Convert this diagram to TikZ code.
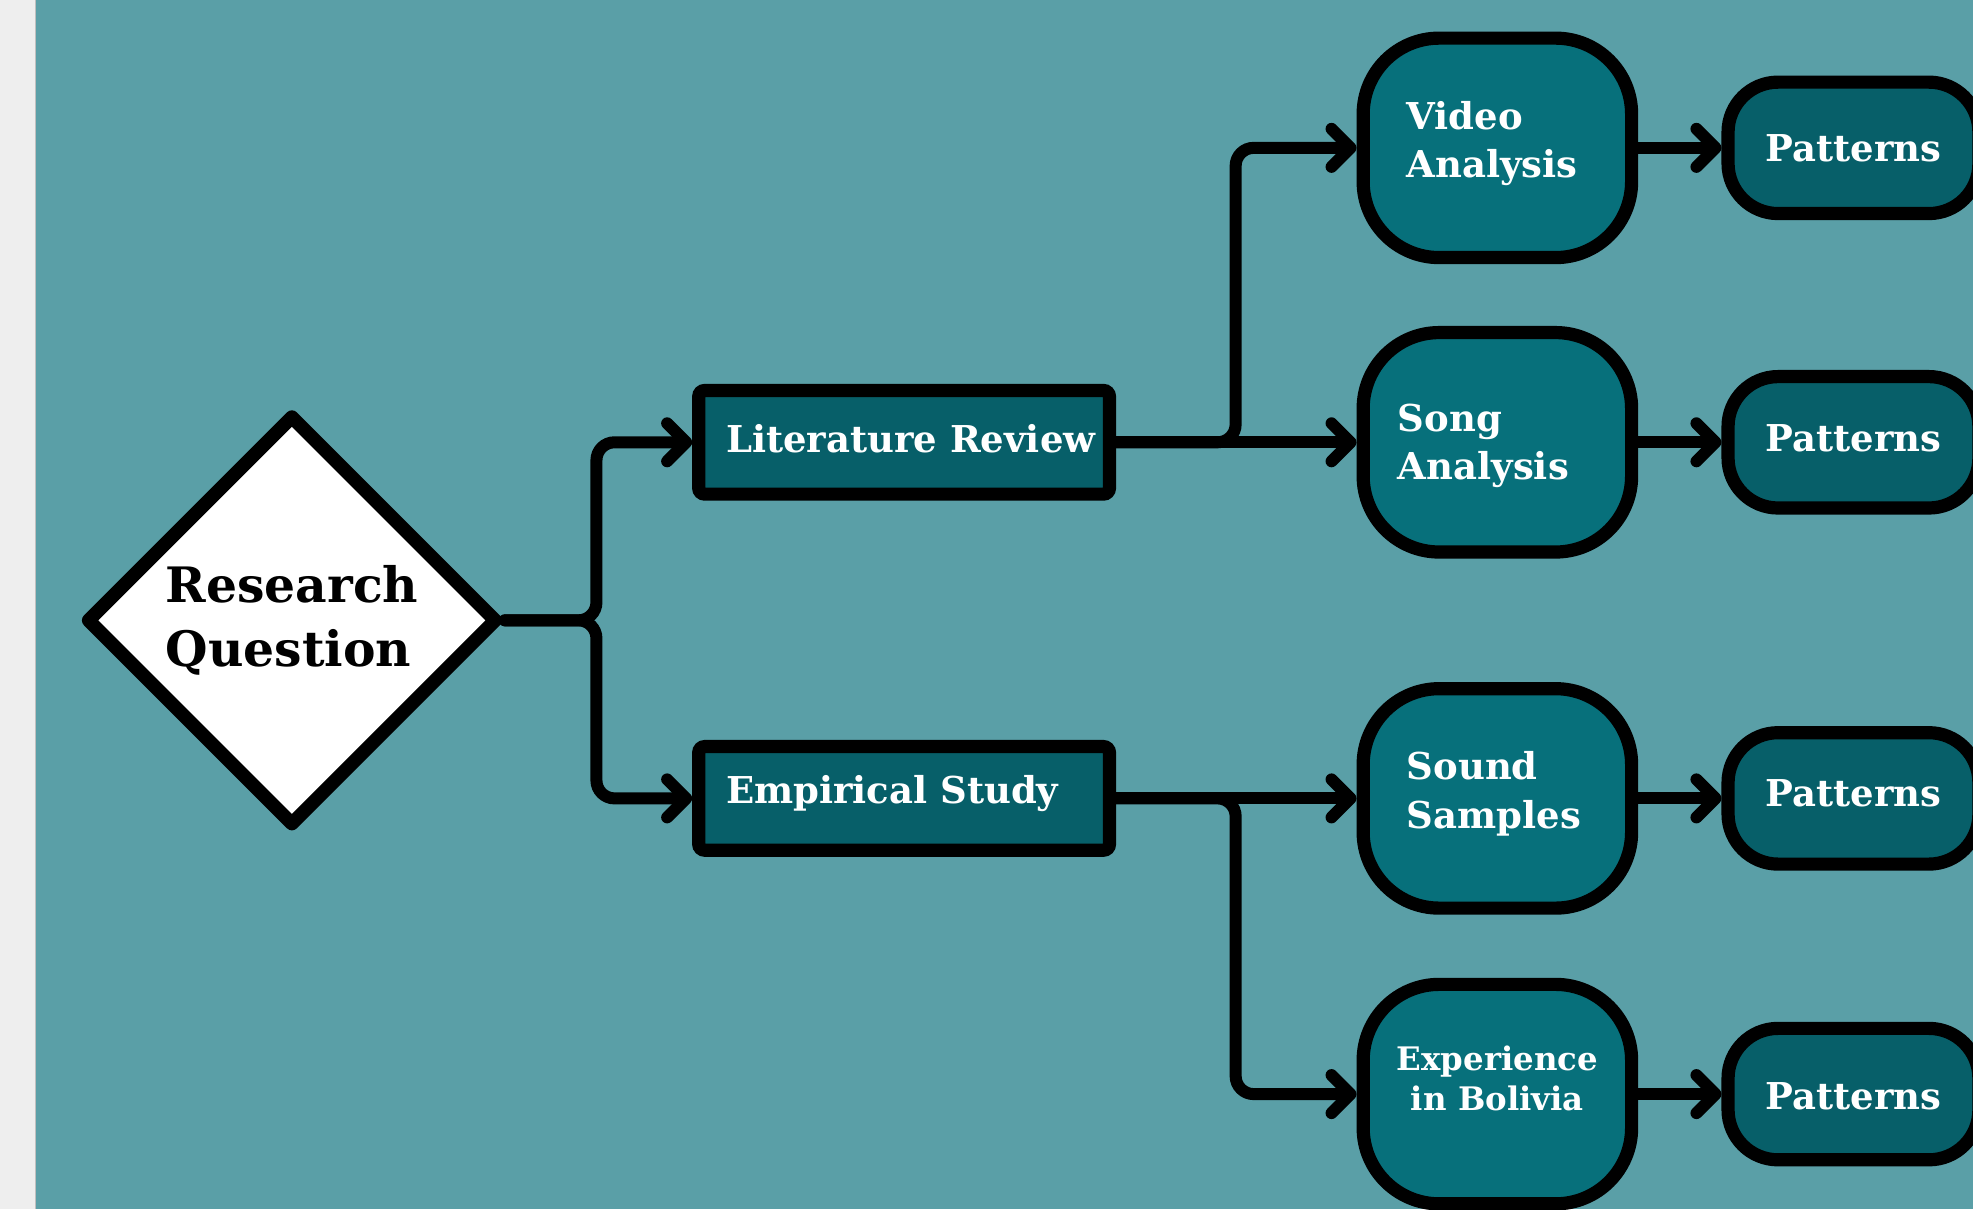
\documentclass[tikz,border=0pt]{standalone}
\usepackage{fontspec}
\setmainfont{DejaVu Serif}
\usetikzlibrary{arrows.meta,shapes.geometric}
\definecolor{bg}{HTML}{5A9FA7}
\definecolor{boxA}{HTML}{075F69}
\definecolor{boxB}{HTML}{07707B}
\definecolor{strip}{HTML}{EEEEEE}
% raise the ink of #2 by #1 while keeping the box size
\newcommand{\lift}[2]{\raisebox{#1}[\height][\depth]{#2}}
\newcommand{\lftbox}[3]{\lift{#1}{\makebox[#2][l]{#3}}}
\newcommand{\stackl}[3]{\lift{#1}{\begin{tabular}{@{}p{#2}@{}}#3\end{tabular}}}
\newcommand{\stackc}[2]{\lift{#1}{\begin{tabular}{@{}c@{}}#2\end{tabular}}}
\begin{document}
\begin{tikzpicture}[x=0.629pt,y=-0.629pt,
  conn/.style={line width=6pt, line cap=round, rounded corners=9pt,
    -{Straight Barb[length=9.5pt,width=19pt,line cap=round,line join=round]}},
  rectbox/.style={draw=black, line width=6.6pt, fill=boxA, rounded corners=3pt,
    minimum width=205.3pt, minimum height=51.8pt, inner sep=0pt, text=white,
    font=\bfseries\fontsize{18.5}{24}\selectfont},
  roundbox/.style={draw=black, line width=6.6pt, fill=boxB, rounded corners=38pt,
    minimum width=134.2pt, minimum height=109.7pt, inner sep=0pt, text=white,
    font=\bfseries\fontsize{18.5}{24}\selectfont},
  patbox/.style={draw=black, line width=6.6pt, fill=boxA, rounded corners=25pt,
    minimum width=125.4pt, minimum height=65.7pt, inner sep=0pt, text=white,
    font=\bfseries\fontsize{18.5}{24}\selectfont}
]
\useasboundingbox (0,0) rectangle (1568,961);
\fill[bg] (0,0) rectangle (1568,961);
\fill[strip] (0,0) rectangle (28.5,961);
\draw[gray!50, line width=0.6pt] (28.5,0) -- (28.5,961);
\clip (0,0) rectangle (1568,961);

\node[diamond, draw=black, line width=6.8pt, line join=round, fill=white,
  minimum width=206pt, minimum height=206pt, inner sep=0pt, align=left,
  font=\bfseries\fontsize{24.4}{31.5}\selectfont] (rq) at (232,493) {Research\\Question};

\node[rectbox] (lr) at (718.5,351.5) {\lftbox{2pt}{178pt}{Literature Review}};
\node[rectbox] (em) at (718.5,634.5) {\lftbox{2.5pt}{178pt}{Empirical Study}};

\node[roundbox] (va) at (1190,117.5) {\stackl{2pt}{90.6pt}{Video\\Analysis}};
\node[roundbox] (sa) at (1190,351.5) {\stackl{-2pt}{99.4pt}{Song\\Analysis}};
\node[roundbox] (ss) at (1190,634.5) {\stackl{2pt}{90.6pt}{Sound\\Samples}};
\node[roundbox, font=\bfseries\fontsize{16.2}{20}\selectfont] (ex) at (1190,869.5) {\stackc{6pt}{Experience\\in Bolivia}};

\node[patbox] (p1) at (1473,117.5) {Patterns};
\node[patbox] (p2) at (1473,351.5) {\lift{2pt}{Patterns}};
\node[patbox] (p3) at (1473,634.5) {\lift{2.5pt}{Patterns}};
\node[patbox] (p4) at (1473,869.5) {\lift{-1.2pt}{Patterns}};

\coordinate (j0) at (474,493);
\coordinate (j1) at (982,351.5);
\coordinate (j2) at (982,634.5);

\draw[conn] (rq.east) -- (j0) |- (lr.west);
\draw[conn] (rq.east) -- (j0) |- (em.west);
\draw[conn] (lr.east) -- (sa.west);
\draw[conn] (lr.east) -- (j1) |- (va.west);
\draw[conn] (em.east) -- (ss.west);
\draw[conn] (em.east) -- (j2) |- (ex.west);
\draw[conn] (va.east) -- (p1.west);
\draw[conn] (sa.east) -- (p2.west);
\draw[conn] (ss.east) -- (p3.west);
\draw[conn] (ex.east) -- (p4.west);
\end{tikzpicture}
\end{document}
